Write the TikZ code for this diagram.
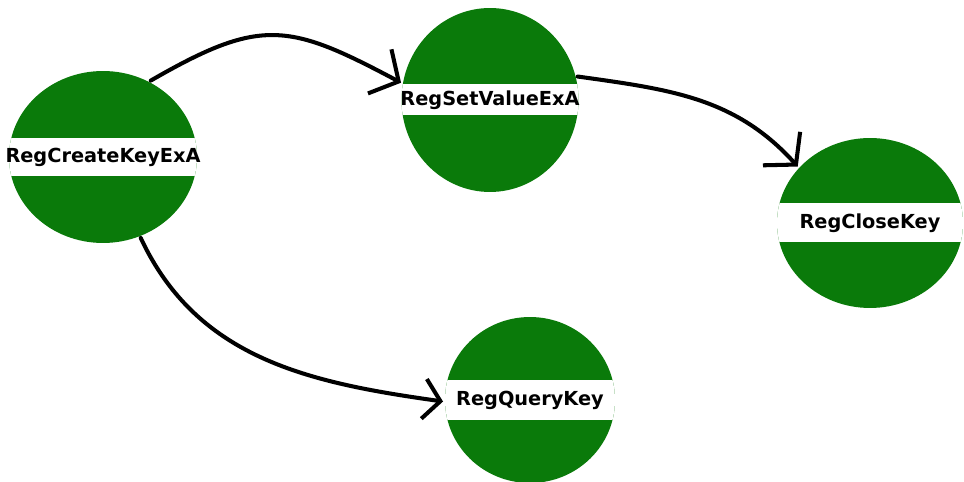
\documentclass[tikz,border=0pt]{standalone}
\usepackage{fontspec}
\setmainfont{DejaVu Sans}
\usetikzlibrary{arrows.meta}
\usetikzlibrary{shapes.geometric}

\definecolor{regGreen}{RGB}{10,122,10}

\begin{document}
\begin{tikzpicture}[ x                  = 0.02cm
                   , y                  = -0.02cm
                   , every label/.style = { font = \bfseries\fontsize{11}{13}\selectfont
                                          , text = black
                                          , inner sep = 0pt
                                          }
                   % Use thick open barbs, drawn by hand
                   , line width         = 2.3pt
                   , line cap           = round
                   ]

  \useasboundingbox (0,0) rectangle (964,482);

  %%
  %% Node types
  %%
  \tikzset{ regfunc/.style={ellipse, fill=regGreen, inner sep=0pt}
          , band/.style={path picture={
              \fill[white] ([shift={(-5cm,#1/2)}]path picture bounding box.center)
                rectangle +(10cm,-#1);}}
          }

  %%
  %% Arrow types
  %%
  \tikzset{ call/.style={-{Straight Barb[length=0.43cm, width=1.0cm]}}
          , query/.style={-{Straight Barb[length=0.33cm, width=0.8cm]}}
          }

  %%
  %% Nodes
  %%
  \node (create) [regfunc, minimum width=3.76cm, minimum height=3.44cm, band=0.76cm,
                  label=center:RegCreateKeyExA] at (103,157) {};
  \node (setval) [regfunc, minimum width=3.54cm, minimum height=3.68cm, band=0.62cm,
                  label=center:RegSetValueExA] at (490,100) {};
  \node (close)  [regfunc, minimum width=3.72cm, minimum height=3.4cm, band=0.78cm,
                  label=center:RegCloseKey] at (870,223) {};
  \node (query)  [regfunc, minimum width=3.4cm, minimum height=3.32cm, band=0.8cm,
                  label=center:RegQueryKey] at (530,400) {};

  %%
  %% Relationships between nodes
  %%
  \draw[call] (create.58) to[out=30, in=152, looseness=1.3] (setval.169);
  \draw[call] (setval.15) to[out=-8, in=132] (close.142);

  %%% Query
  \draw[query] (create.295) to[out=-65, in=172] (query.181);

\end{tikzpicture}
\end{document}
